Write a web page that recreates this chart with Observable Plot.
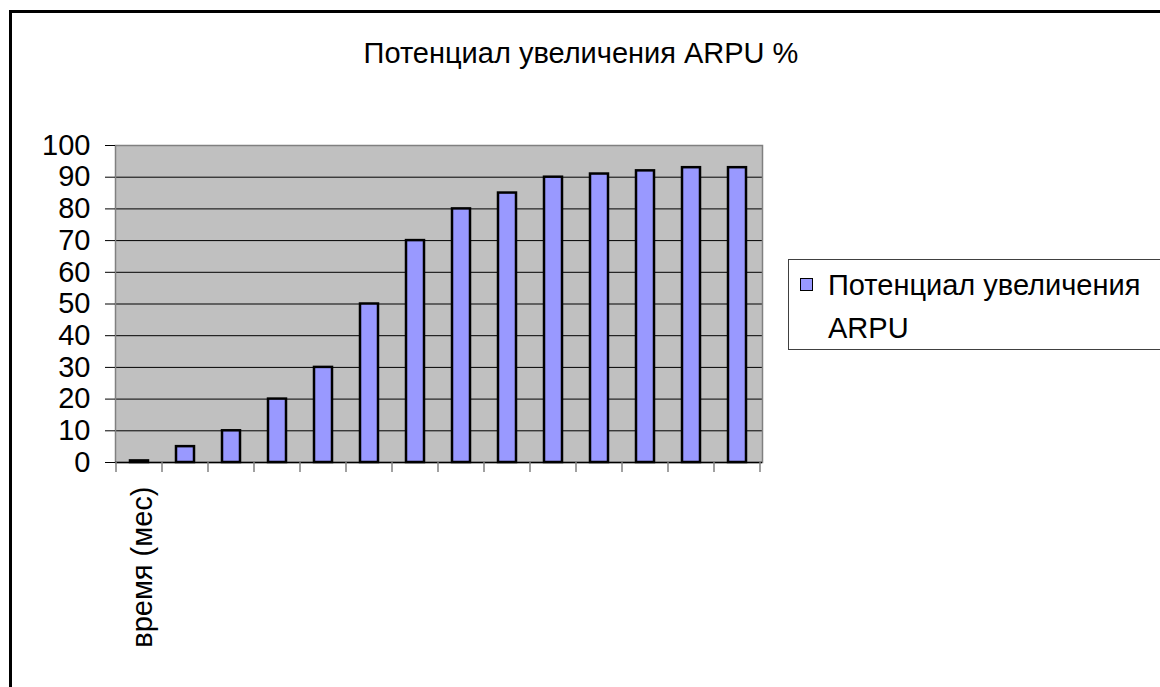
<!DOCTYPE html>
<html>
<head>
<meta charset="utf-8">
<script src="https://cdn.jsdelivr.net/npm/d3@7"></script>
<script src="https://cdn.jsdelivr.net/npm/@observablehq/plot@0.6"></script>
<style>
  html, body { margin: 0; padding: 0; background: #fff; }
  #wrap { position: relative; width: 1160px; height: 687px; overflow: hidden; font-family: "Liberation Sans", Arial, sans-serif; }
  #chart { position: absolute; left: 0; top: 0; }
  #border { position: absolute; left: 9px; top: 10px; width: 1300px; height: 800px; border-left: 3px solid #000; border-top: 3px solid #000; box-sizing: border-box; pointer-events: none; }
  #title { position: absolute; left: 0; width: 1162px; top: 38.5px; text-align: center; font-size: 29px; line-height: 29px; color: #000; white-space: nowrap; }
  #legend { position: absolute; left: 788px; top: 259px; width: 500px; height: 91px; border: 1px solid #404040; box-sizing: border-box; background: #fff; }
  #swatch { position: absolute; left: 800px; top: 278px; width: 11px; height: 11px; border: 1.5px solid #000; background: #9999FF; }
  #legtext { position: absolute; left: 828px; top: 263.5px; font-size: 29px; line-height: 43px; color: #000; white-space: nowrap; }
</style>
</head>
<body>
<div id="wrap">
  <div id="chart"></div>
  <div id="border"></div>
  <div id="title"></div>
  <div id="legend"></div>
  <div id="swatch"></div>
  <div id="legtext"></div>
</div>
<script>
const titleText = "Потенциал увеличения ARPU %";
const seriesName = ["Потенциал увеличения", "ARPU"];
const months = [1, 2, 3, 4, 5, 6, 7, 8, 9, 10, 11, 12, 13, 14];
const values = [0.5, 5, 10, 20, 30, 50, 70, 80, 85, 90, 91, 92, 93, 93];
const xTickLabels = ["время (мес)", "", "", "", "", "", "", "", "", "", "", "", "", ""];
const yTicks = [0, 10, 20, 30, 40, 50, 60, 70, 80, 90, 100];

const data = months.map((m, i) => ({month: m, value: values[i], label: xTickLabels[i]}));

document.getElementById("title").textContent = titleText;
document.getElementById("legtext").innerHTML = seriesName.map(s => `<div>${s}</div>`).join("");

const font = '"Liberation Sans", Arial, sans-serif';

// category boundary ticks (Excel style: ticks between categories)
function boundaryTicks(index, scales, values, dimensions) {
  const x = scales.x;
  const step = x.step();
  const bw = x.bandwidth();
  const y0 = dimensions.height - dimensions.marginBottom;
  const g = d3.create("svg:g");
  const edges = months.map(m => x(m) + bw / 2 - step / 2);
  edges.push(x(months[months.length - 1]) + bw / 2 + step / 2);
  g.selectAll("line").data(edges).join("line")
    .attr("x1", d => d).attr("x2", d => d)
    .attr("y1", y0).attr("y2", y0 + 10)
    .attr("stroke", "#808080").attr("stroke-width", 1.5);
  return g.node();
}

const chart = Plot.plot({
  width: 1160,
  height: 687,
  marginLeft: 115,
  marginRight: 398,
  marginTop: 145,
  marginBottom: 225,
  style: {fontFamily: font, fontSize: "29px", background: "transparent", color: "#000"},
  x: {type: "band", domain: months, paddingInner: 0.6, paddingOuter: 0.3, axis: null},
  y: {domain: [0, 100], axis: null},
  marks: [
    Plot.frame({fill: "#C0C0C0", stroke: "none"}),
    Plot.ruleY(yTicks.filter(v => v > 0 && v < 100), {stroke: "#000", strokeWidth: 1}),
    Plot.frame({stroke: "#808080", strokeWidth: 1.5}),
    Plot.axisY(yTicks, {tickSize: 10, tickPadding: 15, fontSize: 29, stroke: "#000", tickFormat: d3.format("d"), label: null}),
    Plot.barY(data, {x: "month", y: "value", fill: "#9999FF", stroke: "#000", strokeWidth: 2.5}),
    Plot.ruleY([0], {stroke: "#000", strokeWidth: 1.5}),
    boundaryTicks,
    Plot.text(data.filter(d => d.label), {
      x: "month", frameAnchor: "bottom", text: "label",
      rotate: -90, textAnchor: "end", lineAnchor: "middle",
      dy: 24, dx: 3, fontSize: 29, fill: "#000"
    })
  ]
});
document.getElementById("chart").appendChild(chart);
</script>
</body>
</html>
